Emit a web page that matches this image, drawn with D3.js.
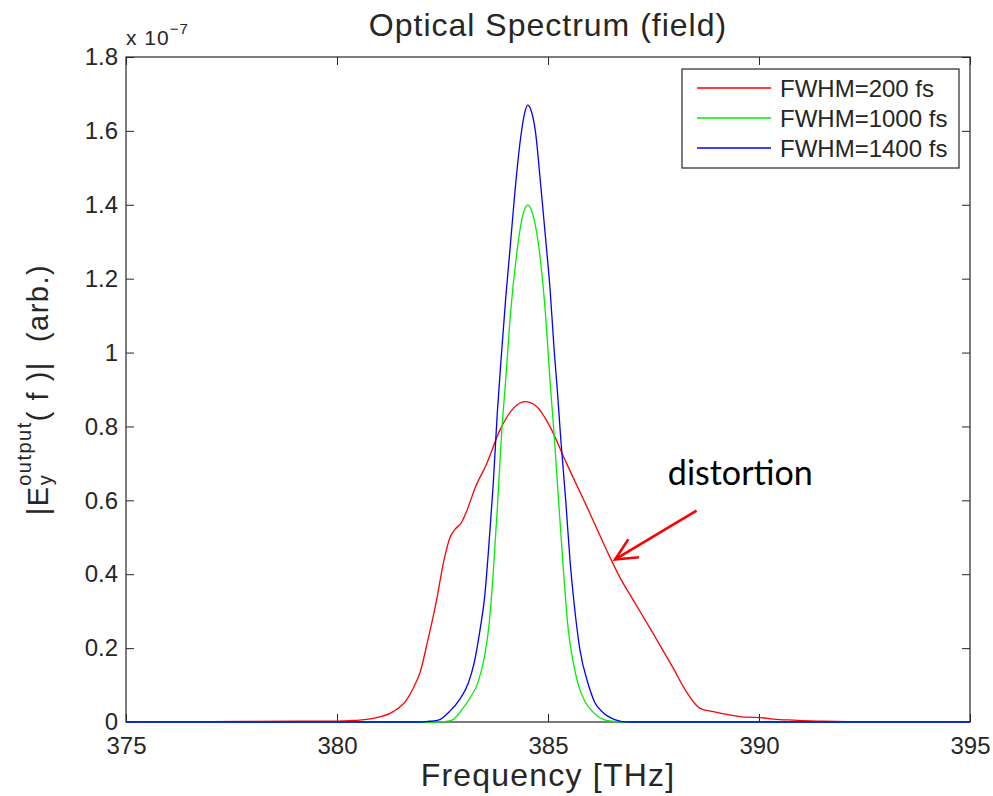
<!DOCTYPE html>
<html>
<head>
<meta charset="utf-8">
<script src="https://cdn.jsdelivr.net/npm/d3@7"></script>
<style>
  html, body { margin: 0; padding: 0; background: #fff; }
  svg { display: block; }
  text { font-family: "Liberation Sans", Arial, sans-serif; fill: #262626; white-space: pre; }
</style>
</head>
<body>
<svg id="chart"></svg>
<script>
// ===== DATA =====
const xTicks = [375, 380, 385, 390, 395];
const yTicks = [0, 0.2, 0.4, 0.6, 0.8, 1, 1.2, 1.4, 1.6, 1.8];

const seriesNames = ["FWHM=200 fs", "FWHM=1000 fs", "FWHM=1400 fs"];
const seriesColors = ["#ff0000", "#00ee00", "#0000ff"];

// values in units of 1e-7
const red200 = [
  [375, 0], [377, 0.001], [379, 0.002], [380, 0.002], [380.4, 0.004],
  [380.86, 0.010], [381.33, 0.028], [381.65, 0.060], [381.81, 0.092],
  [381.97, 0.135], [382.15, 0.220], [382.36, 0.330], [382.52, 0.430],
  [382.68, 0.500], [382.8, 0.522], [382.95, 0.540], [383.07, 0.570],
  [383.27, 0.633], [383.55, 0.700], [383.86, 0.790], [384.18, 0.849],
  [384.45, 0.867], [384.73, 0.854], [385.05, 0.799], [385.44, 0.700],
  [385.92, 0.583], [386.39, 0.465], [386.71, 0.390], [387.02, 0.330],
  [387.49, 0.240], [387.97, 0.145], [388.29, 0.080], [388.6, 0.037],
  [388.92, 0.028], [389.31, 0.019], [389.71, 0.013], [390.02, 0.012],
  [390.34, 0.008], [390.81, 0.005], [391.5, 0.002], [392.5, 0.001], [395, 0]
];

const green1000 = [
  [375, 0], [382.4, 0], [382.7, 0.004], [382.95, 0.032], [383.15, 0.065],
  [383.35, 0.110], [383.5, 0.180], [383.6, 0.260], [383.7, 0.400],
  [383.8, 0.580], [383.9, 0.780], [384.0, 0.930], [384.1, 1.090],
  [384.25, 1.260], [384.4, 1.370], [384.52, 1.400], [384.65, 1.370],
  [384.8, 1.270], [384.95, 1.090], [385.05, 0.920], [385.15, 0.770],
  [385.25, 0.600], [385.36, 0.420], [385.48, 0.250], [385.6, 0.160],
  [385.72, 0.100], [385.88, 0.055], [386.04, 0.030], [386.25, 0.010],
  [386.5, 0.002], [386.8, 0], [395, 0]
];

const blue1400 = [
  [375, 0], [382.0, 0], [382.2, 0.002], [382.4, 0.005], [382.68, 0.030],
  [382.9, 0.060], [383.11, 0.105], [383.25, 0.160], [383.39, 0.250],
  [383.5, 0.340], [383.6, 0.480], [383.7, 0.640], [383.8, 0.840],
  [383.9, 1.000], [384.0, 1.150], [384.1, 1.280], [384.22, 1.440],
  [384.35, 1.580], [384.45, 1.650], [384.52, 1.670], [384.6, 1.655],
  [384.7, 1.600], [384.83, 1.450], [384.95, 1.300], [385.05, 1.170],
  [385.15, 1.000], [385.22, 0.900], [385.3, 0.770], [385.42, 0.600],
  [385.52, 0.440], [385.62, 0.320], [385.75, 0.200], [385.96, 0.100],
  [386.1, 0.055], [386.31, 0.025], [386.6, 0.006], [386.9, 0], [395, 0]
];

// annotation: text anchor, arrow tail and tip in data units
const noteText = "distortion";
const notePos = [387.84, 0.642];
const arrowTail = [388.52, 0.572];
const arrowTip = [386.59, 0.44];

function renderChart() {

  const width = 993;
  const height = 796;

  const margin = { top: 57, right: 23, bottom: 74, left: 126 };

  const svg = d3.select("#chart")
    .attr("width", width)
    .attr("height", height);

  svg.selectAll("*").remove();

  const xScale = d3.scaleLinear()
    .domain([375, 395])
    .range([margin.left, width - margin.right]);

  const yScale = d3.scaleLinear()
    .domain([0, 1.8])
    .range([height - margin.bottom, margin.top]);

  const x0 = xScale.range()[0], x1 = xScale.range()[1];
  const y0 = yScale.range()[0], y1 = yScale.range()[1];

  // ===== AXES (ticks inside, box) =====
  const tickLen = 8;

  svg.append("rect")
    .attr("x", x0)
    .attr("y", y1)
    .attr("width", x1 - x0)
    .attr("height", y0 - y1)
    .attr("fill", "none")
    .attr("stroke", "#262626")
    .attr("stroke-width", 1.2);

  const xAxis = svg.append("g")
    .attr("transform", `translate(0,${y0})`)
    .call(d3.axisBottom(xScale).tickValues(xTicks).tickSize(-tickLen).tickPadding(15).tickFormat(d3.format("d")));

  const xAxisTop = svg.append("g")
    .attr("transform", `translate(0,${y1})`)
    .call(d3.axisTop(xScale).tickValues(xTicks).tickSize(-tickLen).tickFormat(""));

  const yAxis = svg.append("g")
    .attr("transform", `translate(${x0},0)`)
    .call(d3.axisLeft(yScale).tickValues(yTicks).tickSize(-tickLen).tickPadding(8).tickFormat(d => d3.format("~g")(d)));

  const yAxisRight = svg.append("g")
    .attr("transform", `translate(${x1},0)`)
    .call(d3.axisRight(yScale).tickValues(yTicks).tickSize(-tickLen).tickFormat(""));

  [xAxis, xAxisTop, yAxis, yAxisRight].forEach(g => {
    g.select(".domain").remove();
    g.selectAll("line").attr("stroke", "#262626");
    g.selectAll("text")
      .attr("font-family", "Liberation Sans, Arial, sans-serif")
      .attr("font-size", 24)
      .attr("fill", "#262626");
  });

  yAxis.selectAll("text").attr("dy", "0.32em");

  // ===== CURVES =====
  const line = d3.line()
    .x(d => xScale(d[0]))
    .y(d => yScale(d[1]))
    .curve(d3.curveMonotoneX);

  [red200, green1000, blue1400].forEach((s, i) => {
    svg.append("path")
      .datum(s)
      .attr("fill", "none")
      .attr("stroke", seriesColors[i])
      .attr("stroke-width", 1.3)
      .attr("d", line);
  });

  // ===== EXPONENT LABEL =====
  const expo = svg.append("text")
    .attr("x", x0)
    .attr("y", y1 - 12)
    .attr("font-size", 21)
    .attr("letter-spacing", 1);
  expo.append("tspan").text("x 10");
  expo.append("tspan")
    .attr("font-size", 15)
    .attr("dy", -11)
    .text("\u22127");

  // ===== TITLE AND AXIS LABELS =====
  svg.append("text")
    .attr("x", (x0 + x1) / 2)
    .attr("y", 36)
    .attr("text-anchor", "middle")
    .attr("font-size", 32)
    .attr("letter-spacing", 1)
    .text("Optical Spectrum (field)");

  svg.append("text")
    .attr("x", (x0 + x1) / 2)
    .attr("y", 786)
    .attr("text-anchor", "middle")
    .attr("font-size", 32)
    .attr("letter-spacing", 1.2)
    .text("Frequency [THz]");

  const ylab = svg.append("text")
    .attr("transform", `translate(48,${(y0 + y1) / 2}) rotate(-90)`)
    .attr("text-anchor", "middle")
    .attr("font-size", 29)
    .attr("letter-spacing", 1.5);
  ylab.append("tspan").text("|E");
  ylab.append("tspan").attr("font-size", 20).attr("dy", 4).text("y");
  ylab.append("tspan").attr("font-size", 20).attr("dx", -12).attr("dy", -21).text("output");
  ylab.append("tspan").attr("dy", 17).text("( f )|  (arb.)");

  // ===== LEGEND =====
  const legend = svg.append("g")
    .attr("transform", "translate(682,69)");

  legend.append("rect")
    .attr("width", 277)
    .attr("height", 99)
    .attr("fill", "#fff")
    .attr("stroke", "#262626")
    .attr("stroke-width", 1.2);

  seriesNames.forEach((name, i) => {
    const yy = 19 + i * 30;
    legend.append("line")
      .attr("x1", 15)
      .attr("x2", 89)
      .attr("y1", yy)
      .attr("y2", yy)
      .attr("stroke", seriesColors[i])
      .attr("stroke-width", 1.3);
    legend.append("text")
      .attr("x", 98)
      .attr("y", yy)
      .attr("dy", "0.36em")
      .attr("font-size", 24)
      .text(name);
  });

  // ===== ANNOTATION =====
  svg.append("text")
    .attr("x", xScale(notePos[0]))
    .attr("y", yScale(notePos[1]))
    .attr("font-size", 34)
    .style("fill", "#000")
    .style("font-family", "Lato, 'Open Sans', sans-serif")
    .text(noteText);

  const tx = xScale(arrowTip[0]), ty = yScale(arrowTip[1]);
  const sx = xScale(arrowTail[0]), sy = yScale(arrowTail[1]);
  const ang = Math.atan2(sy - ty, sx - tx);
  const head = 24, spread = 0.45;

  svg.append("line")
    .attr("x1", sx).attr("y1", sy)
    .attr("x2", tx).attr("y2", ty)
    .attr("stroke", "#ff0000")
    .attr("stroke-width", 2.6);

  svg.append("path")
    .attr("d", `M${tx + head * Math.cos(ang + spread)},${ty + head * Math.sin(ang + spread)} L${tx},${ty} L${tx + head * Math.cos(ang - spread)},${ty + head * Math.sin(ang - spread)}`)
    .attr("fill", "none")
    .attr("stroke", "#ff0000")
    .attr("stroke-width", 2.6);
}

renderChart();
</script>
</body>
</html>
